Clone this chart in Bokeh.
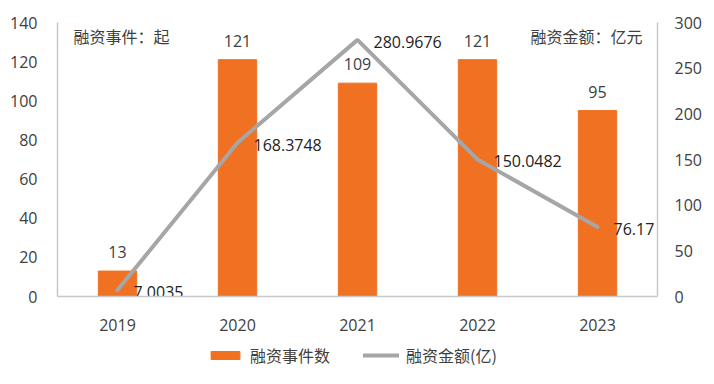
from bokeh.plotting import figure
from bokeh.layouts import column
from bokeh.models import (Range1d, LinearAxis, ColumnDataSource, Legend, LegendItem,
                          FactorRange, FixedTicker)
from bokeh.core.properties import value
from bokeh.embed import file_html
from bokeh.resources import INLINE

years = ["2019", "2020", "2021", "2022", "2023"]
events = [13, 121, 109, 121, 95]
amounts = [7.0035, 168.3748, 280.9676, 150.0482, 76.17]
amount_labels = ["7.0035", "168.3748", "280.9676", "150.0482", "76.17"]
left_ticks = [0, 20, 40, 60, 80, 100, 120, 140]
right_ticks = [0, 50, 100, 150, 200, 250, 300]
left_unit = "融资事件：起"
right_unit = "融资金额：亿元"
series_names = ["融资事件数", "融资金额(亿)"]

ORANGE = "#F07122"
GRAY = "#A6A6A6"
TXT = "#404040"
NUMFONT = "Open Sans"
CJK = "Noto Sans CJK SC"

src = ColumnDataSource(dict(year=years, events=events, amt=amounts,
                            ev_lbl=[str(v) for v in events], amt_lbl=amount_labels))

p = figure(width=714, height=334, x_range=FactorRange(*years), y_range=Range1d(0, 140),
           output_backend="svg", toolbar_location=None,
           min_border_left=57, min_border_right=57, min_border_top=22, min_border_bottom=38)
p.extra_y_ranges = {"right": Range1d(0, 300)}
p.outline_line_color = None
p.xgrid.grid_line_color = None
p.ygrid.grid_line_color = None

p.vbar(x="year", top="events", width=0.32, source=src, color=ORANGE)
p.line(x="year", y="amt", source=src, line_color=GRAY, line_width=4,
       line_cap="round", y_range_name="right")

p.text(x="year", y="events", text="ev_lbl", source=src, text_align="center",
       text_baseline="middle", y_offset=-19, text_font=value(NUMFONT),
       text_font_size="16px", text_color=TXT)
p.text(x="year", y="amt", text="amt_lbl", source=src, text_align="left",
       text_baseline="middle", x_offset=16, y_offset=2, text_font=value(NUMFONT),
       text_font_size="16px", text_color="#222222", y_range_name="right")

# unit captions
p.text(x=[years[0]], y=[left_ticks[-1]], text=[left_unit], text_align="left",
       text_baseline="middle", x_offset=-44, y_offset=13, text_font=value(CJK),
       text_font_size="16px", text_color=TXT)
p.text(x=[years[-1]], y=[left_ticks[-1]], text=[right_unit], text_align="right",
       text_baseline="middle", x_offset=45, y_offset=13, text_font=value(CJK),
       text_font_size="16px", text_color=TXT)

def style(ax):
    ax.axis_line_color = "#C8C8C8"
    ax.axis_line_width = 1.5
    ax.major_tick_line_color = None
    ax.minor_tick_line_color = None
    ax.major_label_text_font = NUMFONT
    ax.major_label_text_font_size = "16px"
    ax.major_label_text_color = TXT

p.yaxis.ticker = FixedTicker(ticks=left_ticks)
style(p.yaxis[0])
p.yaxis.major_label_standoff = 14
style(p.xaxis[0])
p.xaxis.major_label_standoff = 16

ra = LinearAxis(y_range_name="right", ticker=FixedTicker(ticks=right_ticks))
style(ra)
ra.major_label_standoff = 11
p.add_layout(ra, "right")

# legend strip below the chart (same series, kept out of view by its y range)
lg = figure(width=714, height=46, output_backend="svg", toolbar_location=None,
            x_range=FactorRange(*years), y_range=Range1d(1000, 1001),
            x_axis_type=None, y_axis_type=None, min_border=0)
lg.outline_line_color = None
lg.grid.visible = False
r_bar = lg.vbar(x="year", top="events", width=0.32, source=src, color=ORANGE)
r_line = lg.line(x="year", y="amt", source=src, line_color=GRAY, line_width=4,
                 line_cap="round")
legend = Legend(items=[LegendItem(label=series_names[0], renderers=[r_bar]),
                       LegendItem(label=series_names[1], renderers=[r_line])],
                orientation="horizontal", location=(150, 13),
                label_text_font=CJK, label_text_font_size="16px", label_text_color=TXT,
                glyph_width=36, glyph_height=10, label_height=20, label_standoff=7,
                spacing=33, padding=0, margin=0, border_line_color=None,
                background_fill_alpha=0)
lg.add_layout(legend, "center")

layout = column(p, lg, spacing=0)
open("out.html", "w").write(file_html(layout, INLINE))
